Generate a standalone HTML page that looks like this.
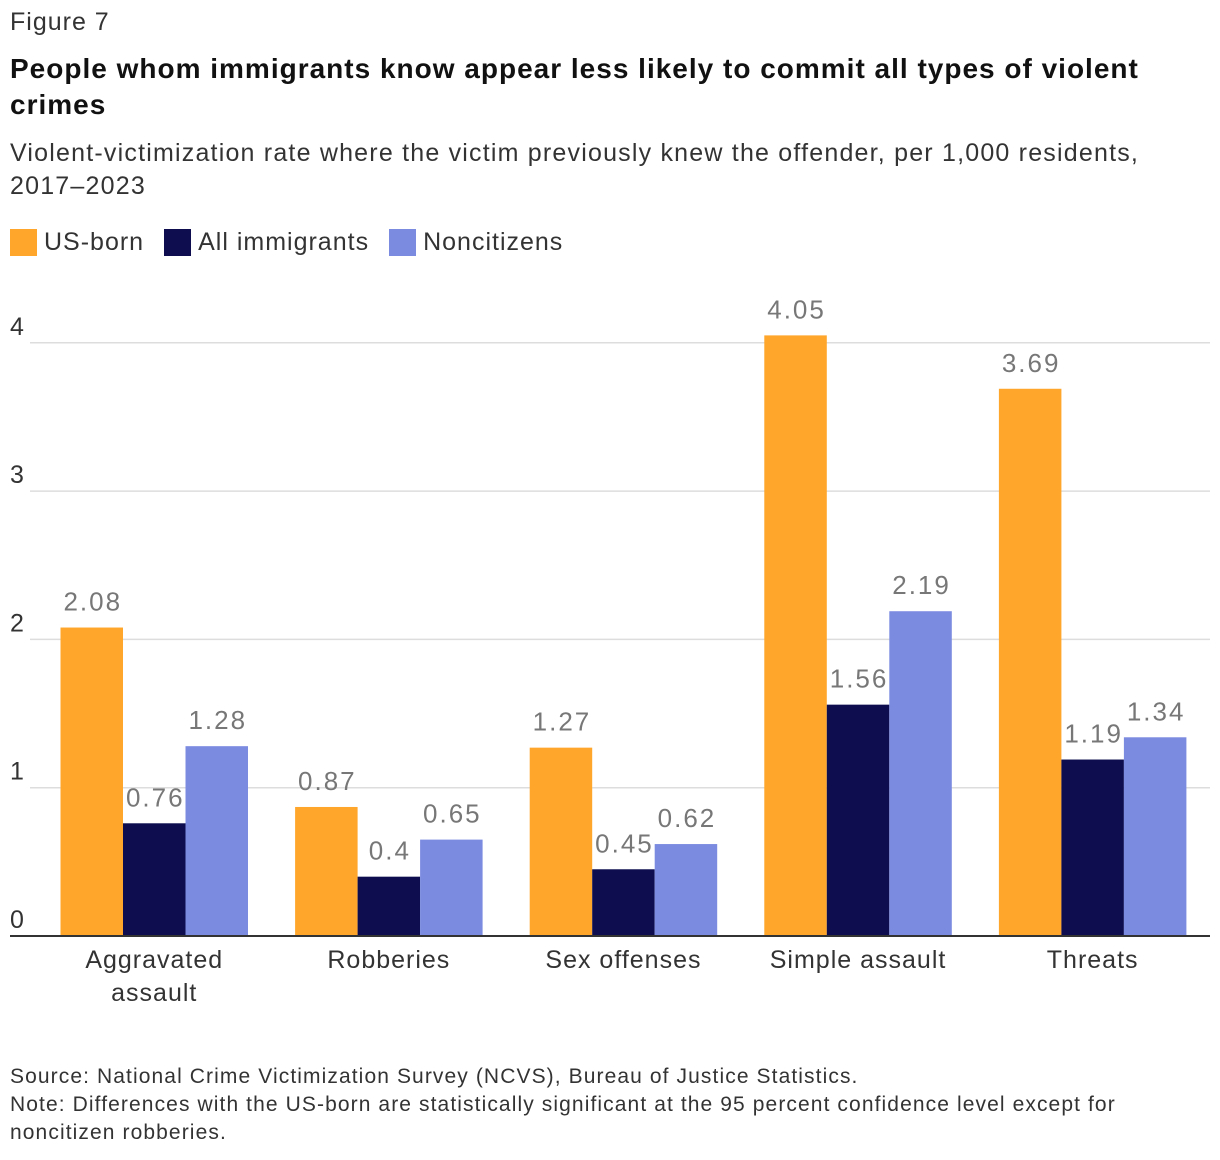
<!DOCTYPE html>
<html><head><meta charset="utf-8">
<style>
body{margin:0;width:1220px;height:1160px;background:#fff;font-family:"Liberation Sans",sans-serif;color:#222;position:relative;overflow:hidden}
.t{position:absolute;left:10px;white-space:nowrap}
</style></head><body>
<div class="t" style="top:8px;font-size:25px;letter-spacing:1px;color:#333">Figure 7</div>
<div class="t" style="top:51px;font-size:28px;letter-spacing:1px;font-weight:bold;line-height:36px;color:#111">People whom immigrants know appear less likely to commit all types of violent<br>crimes</div>
<div class="t" style="top:137px;font-size:25px;letter-spacing:1.2px;line-height:33px;color:#333">Violent-victimization rate where the victim previously knew the offender, per 1,000 residents,<br>2017–2023</div>
<div style="position:absolute;left:10px;top:228px;font-size:25px;letter-spacing:1px;display:flex;align-items:center;color:#333">
<span style="width:27px;height:27px;background:#FFA62B;display:inline-block;margin-right:7px"></span><span style="margin-right:20px">US-born</span>
<span style="width:27px;height:27px;background:#0D0D4F;display:inline-block;margin-right:7px"></span><span style="margin-right:20px">All immigrants</span>
<span style="width:27px;height:27px;background:#7B8BE0;display:inline-block;margin-right:7px"></span><span>Noncitizens</span>
</div>
<svg id="chart" width="1220" height="1160" style="position:absolute;left:0;top:0"></svg>
<div class="t" style="top:1063px;font-size:21px;letter-spacing:1.1px;line-height:28px;color:#333">Source: National Crime Victimization Survey (NCVS), Bureau of Justice Statistics.<br>Note: Differences with the US-born are statistically significant at the 95 percent confidence level except for<br>noncitizen robberies.</div>
<script>
const categories=[["Aggravated","assault"],["Robberies"],["Sex offenses"],["Simple assault"],["Threats"]];
const usBorn=[2.08,0.87,1.27,4.05,3.69];
const allImmigrants=[0.76,0.4,0.45,1.56,1.19];
const noncitizens=[1.28,0.65,0.62,2.19,1.34];
const yTicks=[0,1,2,3,4];
const seriesNames=["us-born","all-immigrants","noncitizens"];
const colors=["#FFA62B","#0D0D4F","#7B8BE0"];
const svg=document.getElementById('chart');
const NS="http://www.w3.org/2000/svg";
const y0=936,unit=148.3,bandStart=37,bandW=234.6,barW=62.5,pad=23.5;
const y=v=>y0-v*unit;
const x=i=>bandStart+i*bandW;
function mk(tag,attrs,txt){const e=document.createElementNS(NS,tag);for(const k in attrs)e.setAttribute(k,attrs[k]);if(txt!==undefined)e.textContent=txt;svg.appendChild(e);return e;}
yTicks.forEach(t=>{
  if(t>0){const g=mk('line',{x1:30,x2:1210,y1:y(t),y2:y(t),stroke:'#ddd','stroke-width':1.5});
  
  }
  const l=mk('text',{x:10,y:y(t)-8,'font-size':25,fill:'#333','font-family':'Liberation Sans'},String(t));
  
  
});
[usBorn,allImmigrants,noncitizens].forEach((s,si)=>{
  s.forEach((v,i)=>{
    const bx=x(i)+pad+si*barW;
    const r=mk('rect',{x:bx,y:y(v),width:barW,height:y0-y(v),fill:colors[si]});
    
    
    const t=mk('text',{x:bx+barW/2+1,y:y(v)-17,'font-size':26,'letter-spacing':2,fill:'#777','text-anchor':'middle','font-family':'Liberation Sans'},String(v));
    
    
  });
});
const ax=mk('line',{x1:10,x2:1210,y1:y0,y2:y0,stroke:'#333','stroke-width':2});


categories.forEach((c,i)=>{
  c.forEach((ln,j)=>{
    const t=mk('text',{x:x(i)+pad+1.5*barW,y:968+j*33,'font-size':25,'letter-spacing':1,fill:'#333','text-anchor':'middle','font-family':'Liberation Sans'},ln);
    
    
  });
});
</script>
</body></html>
